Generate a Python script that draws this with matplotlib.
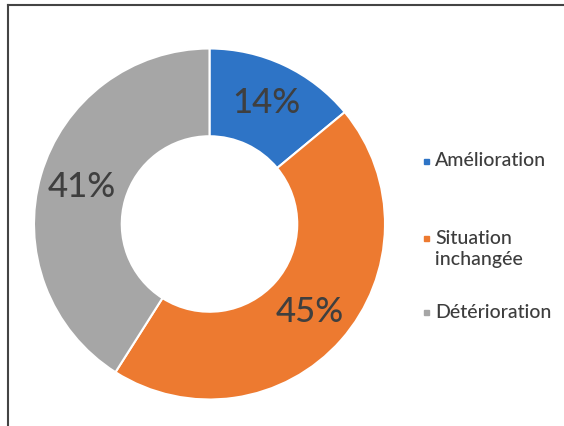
import matplotlib.pyplot as plt
from matplotlib.lines import Line2D
from matplotlib.patches import Rectangle

# données du graphique
categories = ['Amélioration', 'Situation\ninchangée', 'Détérioration']
valeurs = [14, 45, 41]
couleurs = ['#2E74C6', '#ED7A30', '#A6A6A6']

plt.rcParams['font.family'] = ['Lato', 'DejaVu Sans']

W, H = 564, 426
fig = plt.figure(figsize=(W / 100, H / 100), dpi=100)

# anneau : centre (209.5, 224) px, rayon 175.5 px
cx, cy, R = 209.5, 224, 175.5
ax = fig.add_axes([(cx - R) / W, (H - cy - R) / H, 2 * R / W, 2 * R / H])

wedges, textes, pcts = ax.pie(
    valeurs, colors=couleurs, startangle=90, counterclock=False,
    radius=1, autopct='%d%%', pctdistance=0.76,
    wedgeprops=dict(width=0.5, edgecolor='white', linewidth=1.5),
    textprops=dict(fontsize=25, color='#3f3f3f', fontweight='medium'))
ax.set_xlim(-1, 1)
ax.set_ylim(-1, 1)
ax.set_aspect('equal')
ax.axis('off')

# légende dessinée à la main
pos_y = [161, 238, 312]
for cat, col, y in zip(categories, couleurs, pos_y):
    fig.add_artist(Rectangle((424 / W, (H - y - 3) / H), 5 / W, 5 / H,
                             transform=fig.transFigure, color=col))
    for k, ligne in enumerate(cat.split('\n')):
        fig.text(435 / W, (H - y - k * 21) / H, ligne, fontsize=14,
                 color='#3d3d3d', fontweight='medium', va='center', ha='left')

# cadre
trait = dict(color='#444444', linewidth=1.5, transform=fig.transFigure)
fig.add_artist(Line2D([8 / W, 1], [(H - 5) / H, (H - 5) / H], **trait))
fig.add_artist(Line2D([8 / W, 8 / W], [0, (H - 5) / H], **trait))

fig.savefig('out.png', dpi=100, facecolor='white')
